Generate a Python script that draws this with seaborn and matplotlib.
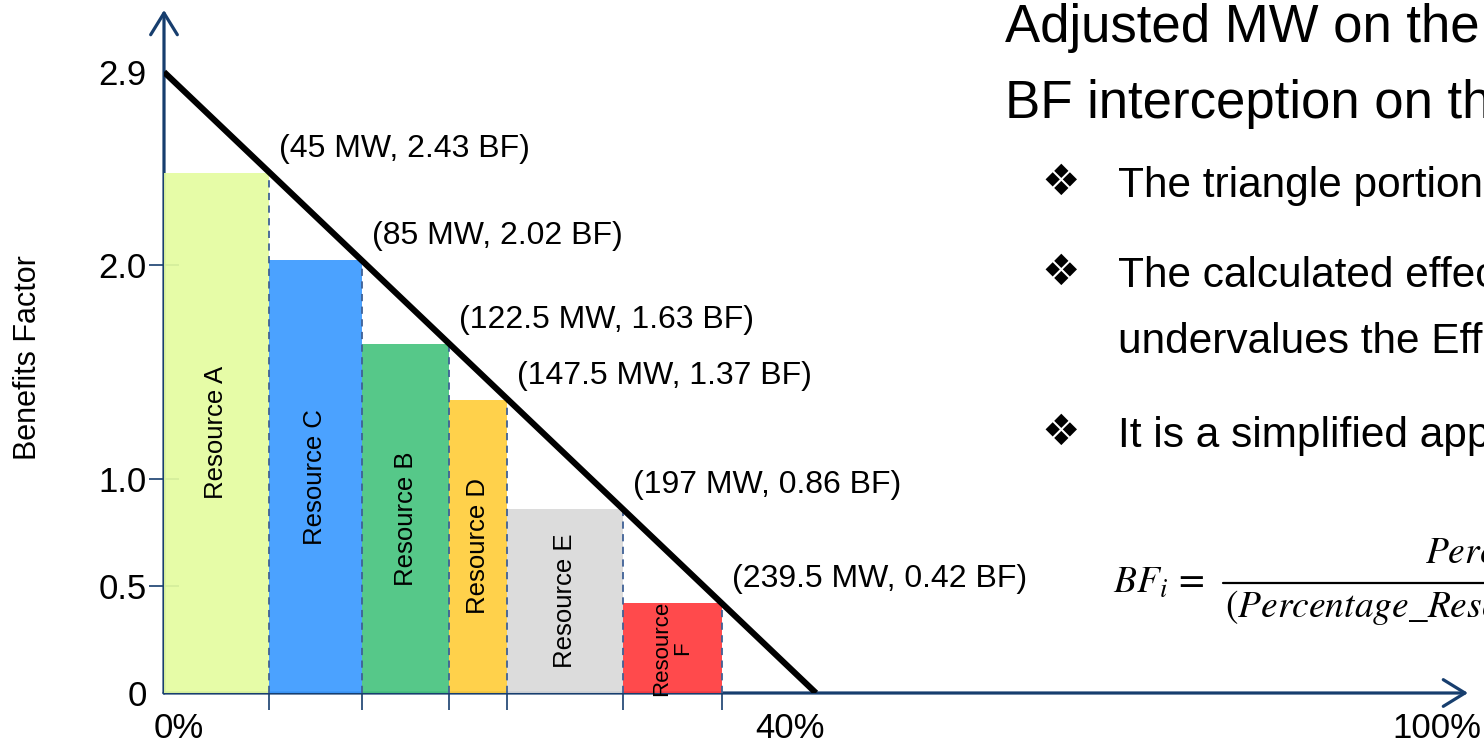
import numpy as np
import matplotlib
matplotlib.use("Agg")
import matplotlib.pyplot as plt
import matplotlib.transforms as mtransforms
import seaborn as sns

# Resources in dispatch order, their cumulative MW and benefits factor
resources = ["Resource A", "Resource C", "Resource B", "Resource D", "Resource E", "Resource\nF"]
cum_mw = [45, 85, 122.5, 147.5, 197, 239.5]
bf_values = [2.43, 2.02, 1.63, 1.37, 0.86, 0.42]
bar_colors = ["#E4FCA0", "#3C9AFF", "#47C47F", "#FFCD3C", "#D9D9D9", "#FF3A3D"]

# Benefits-factor line: 2.9 BF at 0 MW down to 0 BF at 280 MW (40 %)
line_mw = [0, 280]
line_bf = [2.9, 0.0]

# Axis ticks
pct_tick_mw = [0, 280, 700]
pct_tick_labels = ["0%", "40%", "100%"]
bf_ticks = [0, 0.5, 1.0, 2.0, 2.9]
bf_tick_labels = ["0", "0.5", "1.0", "2.0", "2.9"]

NAVY = "#173E6E"
DASH = "#3F6196"

sns.set_theme(style="white")
plt.rcParams["font.family"] = ["Liberation Sans", "DejaVu Sans"]
plt.rcParams["mathtext.fontset"] = "stix"
plt.rcParams["text.color"] = "black"
plt.rcParams["axes.labelcolor"] = "black"
plt.rcParams["xtick.labelcolor"] = "black"
plt.rcParams["ytick.labelcolor"] = "black"

fig = plt.figure(figsize=(14.84, 7.44), dpi=100)
fig.patch.set_facecolor("white")
W, H = 1484, 744
ax = fig.add_axes([164 / W, 51 / H, 1304 / W, 683 / H])
ax.set_facecolor("none")

# x axis: linear up to 40 %, compressed beyond
knee = line_mw[1]
squeeze = 0.635


def fwd(x):
    x = np.asarray(x, dtype=float)
    return np.where(x <= knee, x, knee + (x - knee) * squeeze)


def inv(u):
    u = np.asarray(u, dtype=float)
    return np.where(u <= knee, u, knee + (u - knee) / squeeze)


ax.set_xscale("function", functions=(fwd, inv))
ax.set_xlim(0, knee + knee / squeeze)
ax.set_ylim(0, 2.9 + 62 / 214.1)

# Bars of variable width
lefts = [0] + cum_mw[:-1]
widths = [r - l for l, r in zip(lefts, cum_mw)]
ax.bar(lefts, bf_values, width=widths, align="edge", color=bar_colors,
       linewidth=0, alpha=0.92, zorder=3)
ax.vlines(cum_mw, 0, bf_values, colors=DASH, linestyles=(0, (4, 3)),
          linewidth=1.3, zorder=4)

label_sizes = [18.5, 18.5, 18.5, 18.5, 18.5, 16]
for l, w, h, name, fs in zip(lefts, widths, bf_values, resources, label_sizes):
    ax.text(l + w / 2, h / 2, name, rotation=90, ha="center", va="center",
            multialignment="center", fontsize=fs, color="black", zorder=5,
            linespacing=1.0)

# Benefits-factor line
sns.lineplot(x=line_mw, y=line_bf, ax=ax, color="black", linewidth=4.4,
             zorder=6, solid_capstyle="butt", legend=False)

for mw, bf in zip(cum_mw, bf_values):
    ax.annotate(f"({mw:g} MW, {bf:.2f} BF)", xy=(mw, bf), xytext=(10, 24),
                textcoords="offset pixels", ha="left", va="center",
                fontsize=23, color="black", zorder=7)

# Arrow axes
for spine in ax.spines.values():
    spine.set_visible(False)
arrow = dict(arrowstyle="->,head_length=1.3,head_width=0.8", color=NAVY,
             lw=2.3, shrinkA=0, shrinkB=0)
ax.annotate("", xy=(0, 1), xytext=(0, 0), xycoords="axes fraction",
            arrowprops=arrow, zorder=2)
ax.annotate("", xy=(1, 0), xytext=(0, 0), xycoords="axes fraction",
            arrowprops=arrow, zorder=2)

# y ticks
ax.set_yticks(bf_ticks)
ax.set_yticklabels(bf_tick_labels)
ax.tick_params(axis="y", which="major", direction="inout", length=21,
               width=1.2, color=NAVY, labelsize=25, labelcolor="black",
               pad=2, left=True)
yt = ax.yaxis.get_major_ticks()
yt[0].tick1line.set_visible(False)
yt[-1].tick1line.set_visible(False)

# x ticks: marks at bar boundaries, percentage labels as minor ticks
ax.set_xticks(cum_mw)
ax.set_xticklabels([])
ax.tick_params(axis="x", which="major", direction="out", length=12,
               width=1.2, color=NAVY, bottom=True)
ax.set_xticks(pct_tick_mw, minor=True)
ax.set_xticklabels(pct_tick_labels, minor=True)
ax.tick_params(axis="x", which="minor", length=0, labelsize=25, pad=14,
               labelcolor="black", bottom=True)
shifts = [15, -26, 0]
for lab, dx in zip(ax.get_xticklabels(minor=True), shifts):
    lab.set_transform(lab.get_transform() +
                      mtransforms.Affine2D().translate(dx, 0))
ax.grid(False)

fig.text(28 / W, 1 - 358 / H, "Benefits Factor", rotation=90, ha="center",
         va="center", fontsize=22)

# Slide text on the right
sans = ["Liberation Sans Narrow", "Liberation Sans", "DejaVu Sans"]
fig.text(1005 / W, 1 - 42 / H, "Adjusted MW on the X-axis", family=sans,
         fontsize=38, va="baseline", ha="left")
fig.text(1005 / W, 1 - 118 / H, "BF interception on the line", family=sans,
         fontsize=38, va="baseline", ha="left")
bullets = [(197, "The triangle portion is excluded", True),
           (287, "The calculated effective MW", True),
           (353, "undervalues the Effective MW", False),
           (447, "It is a simplified approach", True)]
for yb, txt, mark in bullets:
    if mark:
        fig.text(1041 / W, 1 - (yb - 2) / H, "\u2756", family=["DejaVu Sans"],
                 fontsize=31, va="baseline", ha="left", color="black")
    fig.text(1118 / W, 1 - yb / H, txt, family=sans, fontsize=30.5,
             va="baseline", ha="left")

fig.text(1113 / W, 1 - 593 / H, r"$BF_i\,=$", fontsize=27, va="baseline",
         ha="left")
fig.text(1425 / W, 1 - 563 / H, r"$Percentage$", fontsize=27, va="baseline",
         ha="left")
fig.text(1225 / W, 1 - 617 / H, r"$(Percentage\_Resource$", fontsize=27,
         va="baseline", ha="left")
fig.add_artist(plt.Line2D([1223 / W, 1.0], [1 - 583 / H, 1 - 583 / H],
                          transform=fig.transFigure, color="black", lw=1.6))

fig.savefig("out.png", dpi=100)
